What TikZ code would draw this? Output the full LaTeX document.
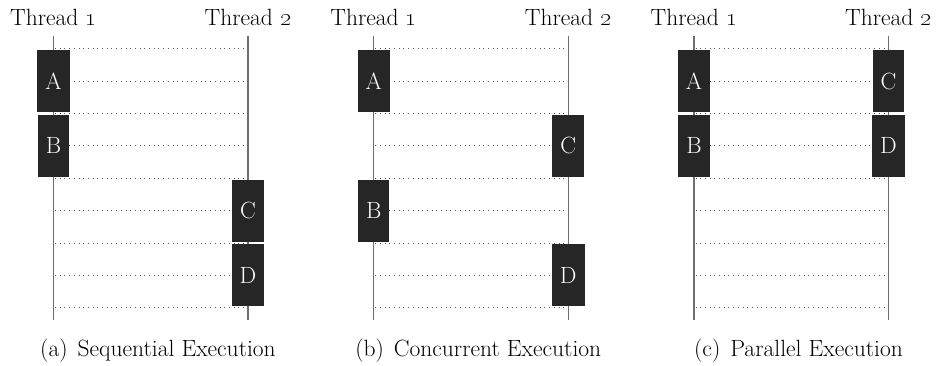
\documentclass[tikz,border=0pt]{standalone}
\definecolor{boxfill}{RGB}{38,38,38}
\definecolor{threadline}{RGB}{110,110,110}
\definecolor{dotcol}{RGB}{90,90,90}
\begin{document}
\begin{tikzpicture}[x=1pt,y=-1pt,
  font=\fontsize{23.5}{27}\selectfont,
  threadln/.style={draw=threadline,line width=1.2pt},
  dotln/.style={draw=dotcol,line width=0.9pt,dash pattern=on 0.9pt off 3.8pt},
  task/.style={fill=boxfill,text=white,minimum height=62pt,inner xsep=8pt,inner ysep=0pt},
  lbl/.style={anchor=base,inner sep=0pt},
]
\useasboundingbox (0,0) rectangle (936,365);
\foreach \p/\ox in {a/0,b/320.25,c/640.5}{
  \coordinate (\p1top) at (53.5+\ox,36);
  \coordinate (\p1bot) at (53.5+\ox,320);
  \coordinate (\p2top) at (248+\ox,36);
  \coordinate (\p2bot) at (248+\ox,320);
  \node[lbl] (\p1lbl) at (53.5+\ox,25) {Thread \oldstylenums{1}};
  \node[lbl] (\p2lbl) at (248+\ox,25) {Thread \oldstylenums{2}};
  \draw[threadln] (\p1top) -- (\p1bot);
  \draw[threadln] (\p2top) -- (\p2bot);
  \foreach \k in {0,...,8}{
    \coordinate (\p l\k) at (55+\ox,48.7+32.375*\k);
    \coordinate (\p r\k) at (247.5+\ox,48.7+32.375*\k);
    \draw[dotln] (\p l\k) -- (\p r\k);
  }
}
% (a) sequential
\node[task] (aA) at (53.5,81.1) {A};
\node[task] (aB) at (53.5,145.8) {B};
\node[task] (aC) at (248,210.6) {C};
\node[task] (aD) at (248,275.3) {D};
% (b) concurrent
\node[task] (bA) at (373.75,81.1) {A};
\node[task] (bC) at (568.25,145.8) {C};
\node[task] (bB) at (373.75,210.6) {B};
\node[task] (bD) at (568.25,275.3) {D};
% (c) parallel
\node[task] (cA) at (694,81.1) {A};
\node[task] (cB) at (694,145.8) {B};
\node[task] (cC) at (888.5,81.1) {C};
\node[task] (cD) at (888.5,145.8) {D};
% captions
\node[lbl] (capa) at (158,356) {(a)\hspace{10pt}Sequential Execution};
\node[lbl] (capb) at (478.25,356) {(b)\hspace{10pt}Concurrent Execution};
\node[lbl] (capc) at (798.5,356) {(c)\hspace{10pt}Parallel Execution};
\end{tikzpicture}
\end{document}
